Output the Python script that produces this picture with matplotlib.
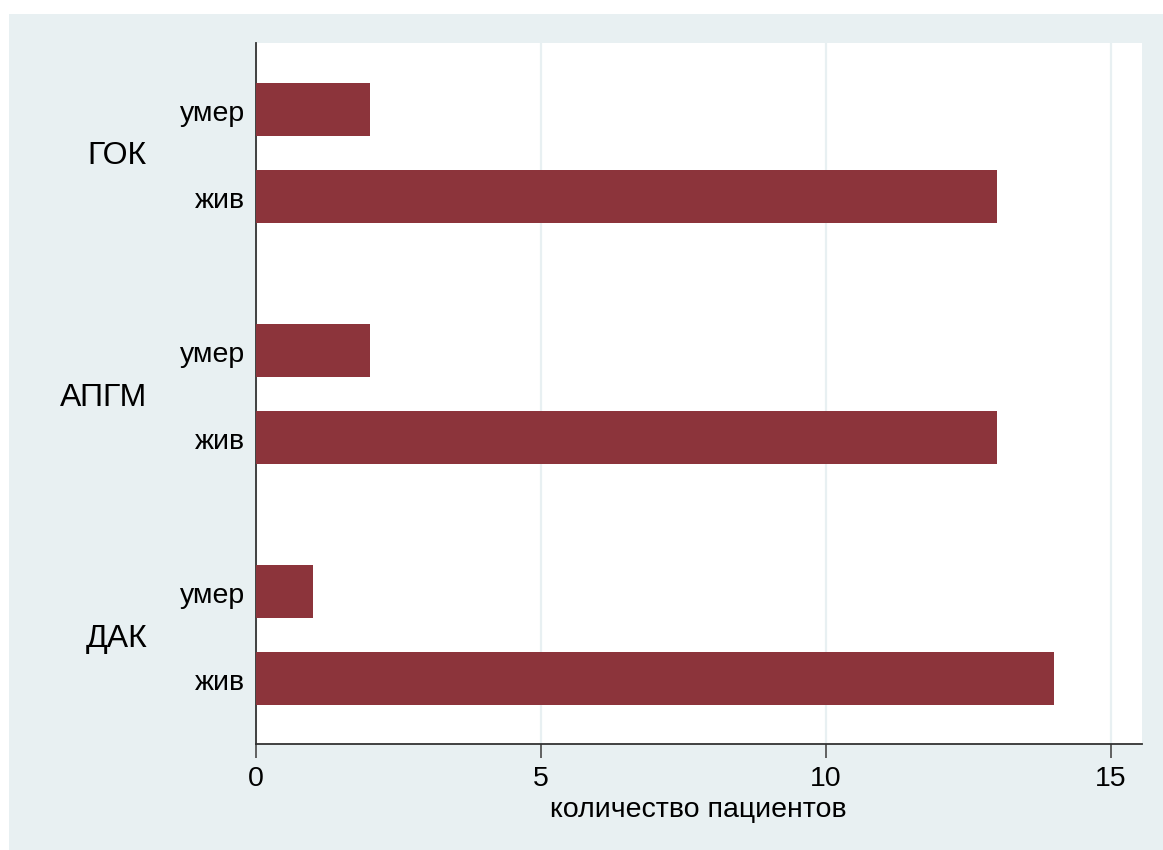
import numpy as np
import matplotlib.pyplot as plt
from matplotlib.patches import Rectangle
import matplotlib.transforms as mtransforms

plt.rcParams['font.family'] = ['Liberation Sans', 'DejaVu Sans']

# data
groups = ["ГОК", "АПГМ", "ДАК"]
outcomes = ["умер", "жив"]
died = [2, 2, 1]
alive = [13, 13, 14]
xticks = [0, 5, 10, 15]
xlabel = "количество пациентов"

bar_color = "#8C343B"
bg_color = "#E8F0F2"

W, H = 1163, 850
fig = plt.figure(figsize=(W / 100, H / 100), dpi=100)
fig.patch.set_facecolor("white")
fig.patches.append(Rectangle((9 / W, 0), 1 - 9 / W, 1 - 14 / H,
                             transform=fig.transFigure, facecolor=bg_color,
                             edgecolor="none", zorder=-10))

ax = fig.add_axes([256 / W, (H - 744) / H, (1142 - 256) / W, (744 - 43) / H])
ax.set_facecolor("white")

# layout (in pixel-like units from top of the plot area)
first, step_in, step_grp, bar_h = 66, 87, 241, 53
pos_died = [first + g * step_grp for g in range(len(groups))]
pos_alive = [p + step_in for p in pos_died]

ax.barh(pos_died, died, height=bar_h, color=bar_color, zorder=3)
ax.barh(pos_alive, alive, height=bar_h, color=bar_color, zorder=3)

ax.set_ylim(701, 0)
ax.set_xlim(0, (1142 - 256) / 57)

ax.set_xticks(xticks)
ax.set_xticklabels([str(t) for t in xticks], fontsize=20.5)
ax.tick_params(axis='x', length=10, width=1.3, color="#555555", pad=6)
ax.xaxis.grid(True, color=bg_color, linewidth=1.6, zorder=0)
ax.set_axisbelow(True)

ypos = []
ylabels = []
for d, a in zip(pos_died, pos_alive):
    ypos += [d + 2, a + 2]
    ylabels += outcomes
ax.set_yticks(ypos)
ax.set_yticklabels(ylabels, fontsize=20.5)
ax.tick_params(axis='y', length=0, pad=8)

for side in ["top", "right"]:
    ax.spines[side].set_visible(False)
for side in ["left", "bottom"]:
    ax.spines[side].set_color("#333333")
    ax.spines[side].set_linewidth(1.3)

trans = mtransforms.blended_transform_factory(fig.transFigure, ax.transData)
for g, name in enumerate(groups):
    ax.text(147 / W, (pos_died[g] + pos_alive[g]) / 2 + 4, name, transform=trans,
            ha="right", va="center", fontsize=23)

fig.text(698 / W, 1 - 810 / H, xlabel, ha="center", va="center", fontsize=20.5)

fig.savefig("out.png", dpi=100)
